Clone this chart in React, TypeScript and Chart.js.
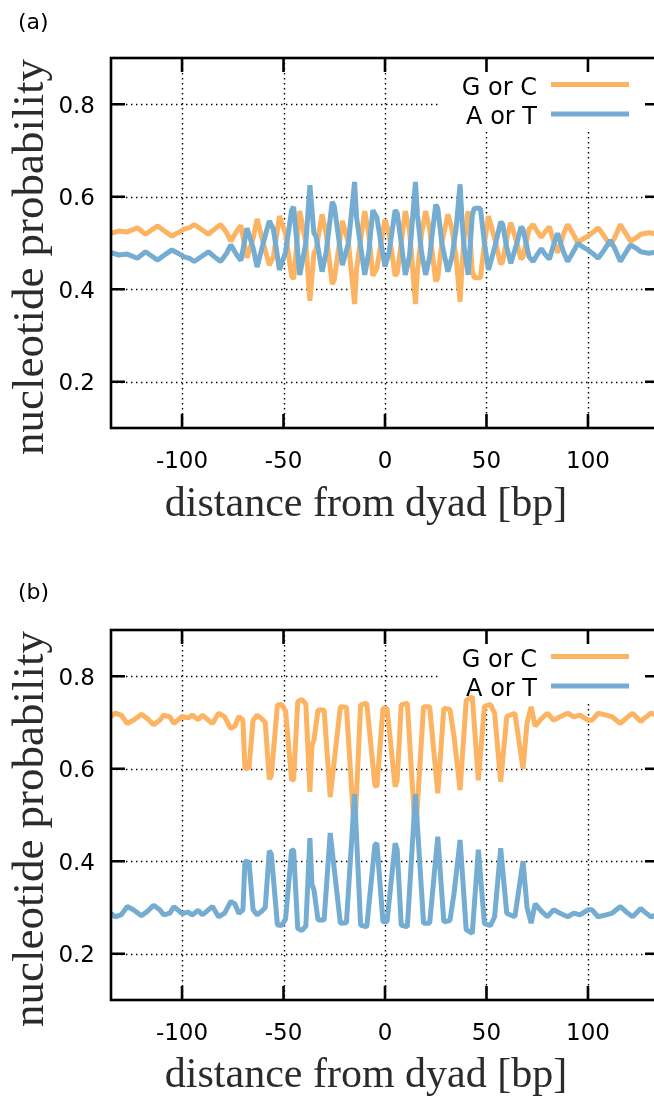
import React, { useEffect, useRef } from "react";
import { Chart, registerables } from "chart.js";

Chart.register(...registerables);

// ---------- data ----------
const X_TICKS = [-100, -50, 0, 50, 100];
const X_TICK_LABELS = ["-100", "-50", "0", "50", "100"];
const Y_TICKS = [0.2, 0.4, 0.6, 0.8];
const Y_TICK_LABELS = ["0.2", "0.4", "0.6", "0.8"];
const SERIES_NAMES = ["G or C", "A or T"];
const X_TITLE = "distance from dyad [bp]";
const Y_TITLE = "nucleotide probability";
const PANEL_LABELS = ["(a)", "(b)"];

// panel (a)
const A_POS = [
  -135, -131, -127, -122, -118, -115, -112, -108, -105, -102,
  -99, -96, -94, -90, -87, -84, -81, -78, -76, -73,
  -71, -68, -65, -63, -60, -57, -55, -52, -49, -46,
  -45, -42, -39, -37, -35, -34, -31, -29, -26, -25,
  -21, -18, -15, -14, -10, -8, -6, -4, -2, 0,
  2, 5, 6, 8, 10, 12, 13, 15, 16, 18,
  20, 22, 23, 25, 26, 28, 31, 33, 35, 37,
  38, 39, 41, 43, 44, 47, 49, 51, 54, 57,
  58, 60, 62, 65, 67, 68, 71, 73, 75, 77,
  79, 81, 83, 85, 88, 90, 92, 95, 98, 100,
  103, 105, 108, 111, 113, 116, 118, 121, 124, 126,
  130, 135,
];
const A_AT = [
  0.479, 0.474, 0.476, 0.467, 0.481, 0.472, 0.463, 0.476, 0.485, 0.478,
  0.470, 0.466, 0.460, 0.472, 0.481, 0.470, 0.460, 0.478, 0.496, 0.474,
  0.462, 0.532, 0.490, 0.448, 0.500, 0.548, 0.530, 0.442, 0.480, 0.571,
  0.578, 0.431, 0.500, 0.625, 0.521, 0.515, 0.438, 0.480, 0.589, 0.580,
  0.452, 0.500, 0.632, 0.555, 0.431, 0.480, 0.571, 0.555, 0.500, 0.449,
  0.480, 0.571, 0.565, 0.500, 0.431, 0.470, 0.520, 0.632, 0.560, 0.480,
  0.431, 0.470, 0.510, 0.583, 0.575, 0.500, 0.438, 0.470, 0.530, 0.627,
  0.545, 0.490, 0.431, 0.560, 0.575, 0.575, 0.500, 0.442, 0.490, 0.546,
  0.540, 0.490, 0.456, 0.500, 0.535, 0.530, 0.470, 0.460, 0.475, 0.488,
  0.475, 0.465, 0.495, 0.521, 0.480, 0.460, 0.475, 0.499, 0.490, 0.485,
  0.475, 0.467, 0.485, 0.506, 0.490, 0.460, 0.475, 0.496, 0.488, 0.481,
  0.478, 0.481,
];
const A_GC = [
  0.521, 0.526, 0.524, 0.533, 0.519, 0.528, 0.537, 0.524, 0.515, 0.522,
  0.530, 0.534, 0.540, 0.528, 0.519, 0.530, 0.540, 0.522, 0.504, 0.526,
  0.538, 0.468, 0.510, 0.552, 0.500, 0.452, 0.470, 0.558, 0.520, 0.429,
  0.422, 0.569, 0.500, 0.375, 0.479, 0.485, 0.562, 0.520, 0.411, 0.420,
  0.548, 0.500, 0.368, 0.445, 0.569, 0.520, 0.429, 0.445, 0.500, 0.551,
  0.520, 0.429, 0.435, 0.500, 0.569, 0.530, 0.480, 0.368, 0.440, 0.520,
  0.569, 0.530, 0.490, 0.417, 0.425, 0.500, 0.562, 0.530, 0.470, 0.373,
  0.455, 0.510, 0.569, 0.440, 0.425, 0.425, 0.500, 0.558, 0.510, 0.454,
  0.460, 0.510, 0.544, 0.500, 0.465, 0.470, 0.530, 0.540, 0.525, 0.512,
  0.525, 0.535, 0.505, 0.479, 0.520, 0.540, 0.525, 0.501, 0.510, 0.515,
  0.525, 0.533, 0.515, 0.494, 0.510, 0.540, 0.525, 0.504, 0.512, 0.519,
  0.522, 0.519,
];

// panel (b)
const B_POS = [
  -135, -133, -130, -127, -124, -120, -117, -114, -111, -109,
  -106, -104, -100, -97, -95, -92, -90, -87, -85, -82,
  -79, -76, -74, -72, -70, -69, -67, -65, -63, -61,
  -59, -57, -56, -53, -51, -49, -46, -45, -43, -41,
  -39, -37, -36, -35, -33, -30, -27, -22, -19, -15,
  -12, -9, -5, -4, -1, 1, 5, 6, 8, 11,
  15, 19, 22, 26, 29, 32, 34, 37, 40, 43,
  46, 49, 52, 54, 57, 60, 64, 68, 70, 72,
  74, 77, 80, 83, 86, 90, 93, 96, 100, 102,
  105, 109, 112, 116, 119, 122, 126, 128, 131, 135,
];
const B_GC = [
  0.713, 0.720, 0.716, 0.698, 0.705, 0.718, 0.708, 0.695, 0.705, 0.716,
  0.712, 0.698, 0.713, 0.710, 0.716, 0.706, 0.716, 0.705, 0.698, 0.720,
  0.712, 0.687, 0.692, 0.713, 0.705, 0.600, 0.602, 0.705, 0.716, 0.709,
  0.700, 0.577, 0.585, 0.738, 0.739, 0.725, 0.575, 0.577, 0.745, 0.750,
  0.740, 0.550, 0.650, 0.662, 0.727, 0.727, 0.539, 0.734, 0.733, 0.455,
  0.738, 0.742, 0.565, 0.561, 0.731, 0.731, 0.561, 0.575, 0.738, 0.742,
  0.455, 0.734, 0.734, 0.547, 0.731, 0.728, 0.670, 0.554, 0.748, 0.756,
  0.575, 0.735, 0.739, 0.720, 0.572, 0.713, 0.720, 0.600, 0.700, 0.734,
  0.692, 0.708, 0.720, 0.705, 0.712, 0.720, 0.712, 0.716, 0.705, 0.705,
  0.720, 0.716, 0.712, 0.698, 0.710, 0.720, 0.702, 0.710, 0.720, 0.715,
];
const B_AT = [
  0.287, 0.280, 0.284, 0.302, 0.295, 0.282, 0.292, 0.305, 0.295, 0.284,
  0.288, 0.302, 0.287, 0.290, 0.284, 0.294, 0.284, 0.295, 0.302, 0.280,
  0.288, 0.313, 0.308, 0.287, 0.295, 0.400, 0.398, 0.295, 0.284, 0.291,
  0.300, 0.423, 0.415, 0.262, 0.261, 0.275, 0.425, 0.423, 0.255, 0.250,
  0.260, 0.450, 0.350, 0.338, 0.273, 0.273, 0.461, 0.266, 0.267, 0.545,
  0.262, 0.258, 0.435, 0.439, 0.269, 0.269, 0.439, 0.425, 0.262, 0.258,
  0.545, 0.266, 0.266, 0.453, 0.269, 0.272, 0.330, 0.446, 0.252, 0.244,
  0.425, 0.265, 0.261, 0.280, 0.428, 0.287, 0.280, 0.400, 0.300, 0.266,
  0.308, 0.292, 0.280, 0.295, 0.288, 0.280, 0.288, 0.284, 0.295, 0.295,
  0.280, 0.284, 0.288, 0.302, 0.290, 0.280, 0.298, 0.290, 0.280, 0.285,
];

// ---------- styling ----------
const ORANGE = "#fdb462";
const BLUE = "#74add1";
const SANS = '"DejaVu Sans", "Noto Sans", sans-serif';
const SERIF = '"Liberation Serif", "DejaVu Serif", serif';
const LINE_W = 5;

type PanelCfg = {
  label: string;
  labelBaseline: number;
  xTitleBaseline: number;
  pos: number[];
  gc: number[];
  at: number[];
};

function makeDecor(cfg: PanelCfg) {
  const keyLeft = 440;
  const keyBottom = 132;
  return {
    id: "decor",
    beforeDatasetsDraw(chart: any) {
      const { ctx, chartArea: ca, scales } = chart;
      const xs = scales.x;
      const ys = scales.y;
      ctx.save();
      ctx.strokeStyle = "#000";
      ctx.lineWidth = 1.4;
      ctx.setLineDash([1.4, 3.6]);
      ctx.beginPath();
      for (const v of X_TICKS) {
        const px = Math.round(xs.getPixelForValue(v)) + 0.5;
        const top = px > keyLeft ? keyBottom : ca.top;
        ctx.moveTo(px, top);
        ctx.lineTo(px, ca.bottom);
      }
      for (const v of Y_TICKS) {
        const py = Math.round(ys.getPixelForValue(v)) + 0.5;
        const right = py < keyBottom ? keyLeft : ca.right;
        ctx.moveTo(ca.left, py);
        ctx.lineTo(right, py);
      }
      ctx.stroke();
      ctx.restore();
    },
    afterDatasetsDraw(chart: any) {
      const { ctx, chartArea: ca, scales } = chart;
      const xs = scales.x;
      const ys = scales.y;
      ctx.save();
      ctx.setLineDash([]);
      ctx.strokeStyle = "#000";
      ctx.lineWidth = 2.6;
      ctx.strokeRect(ca.left, ca.top, ca.right - ca.left, ca.bottom - ca.top);
      ctx.beginPath();
      for (const v of X_TICKS) {
        const px = xs.getPixelForValue(v);
        ctx.moveTo(px, ca.bottom);
        ctx.lineTo(px, ca.bottom - 14);
        ctx.moveTo(px, ca.top);
        ctx.lineTo(px, ca.top + 14);
      }
      for (const v of Y_TICKS) {
        const py = ys.getPixelForValue(v);
        ctx.moveTo(ca.left, py);
        ctx.lineTo(ca.left + 14, py);
        ctx.moveTo(ca.right, py);
        ctx.lineTo(ca.right - 14, py);
      }
      ctx.stroke();

      // tick labels
      ctx.fillStyle = "#000";
      ctx.font = `23px ${SANS}`;
      ctx.textBaseline = "alphabetic";
      ctx.textAlign = "center";
      X_TICKS.forEach((v, i) => {
        ctx.fillText(X_TICK_LABELS[i], xs.getPixelForValue(v), ca.bottom + 40);
      });
      ctx.textAlign = "right";
      Y_TICKS.forEach((v, i) => {
        ctx.fillText(Y_TICK_LABELS[i], ca.left - 16, ys.getPixelForValue(v) + 8.5);
      });

      // axis titles
      ctx.fillStyle = "#2b2b2b";
      ctx.textAlign = "center";
      ctx.font = `42px ${SERIF}`;
      ctx.fillText(X_TITLE, 366, cfg.xTitleBaseline);
      ctx.save();
      ctx.font = `45px ${SERIF}`;
      ctx.translate(43, 257);
      ctx.rotate(-Math.PI / 2);
      ctx.fillText(Y_TITLE, 0, 0);
      ctx.restore();

      // key
      ctx.fillStyle = "#000";
      ctx.font = `24px ${SANS}`;
      ctx.textAlign = "right";
      ctx.fillText(SERIES_NAMES[0], 537, 95);
      ctx.fillText(SERIES_NAMES[1], 537, 124);
      ctx.lineWidth = LINE_W;
      ctx.lineCap = "butt";
      ctx.strokeStyle = ORANGE;
      ctx.beginPath();
      ctx.moveTo(551, 84.5);
      ctx.lineTo(629, 84.5);
      ctx.stroke();
      ctx.strokeStyle = BLUE;
      ctx.beginPath();
      ctx.moveTo(551, 114);
      ctx.lineTo(629, 114);
      ctx.stroke();

      // panel label
      ctx.fillStyle = "#000";
      ctx.font = `22px ${SANS}`;
      ctx.textAlign = "left";
      ctx.fillText(cfg.label, 18, cfg.labelBaseline);
      ctx.restore();
    },
  };
}

function Panel({ cfg, top }: { cfg: PanelCfg; top: number }) {
  const ref = useRef<HTMLCanvasElement | null>(null);
  useEffect(() => {
    if (!ref.current) return;
    const chart = new Chart(ref.current, {
      type: "line",
      data: {
        datasets: [
          {
            label: SERIES_NAMES[1],
            data: cfg.pos.map((x, i) => ({ x, y: cfg.at[i] })),
            borderColor: BLUE,
            borderWidth: LINE_W,
            pointRadius: 0,
            borderJoinStyle: "bevel",
            tension: 0,
            order: 0,
          },
          {
            label: SERIES_NAMES[0],
            data: cfg.pos.map((x, i) => ({ x, y: cfg.gc[i] })),
            borderColor: ORANGE,
            borderWidth: LINE_W,
            pointRadius: 0,
            borderJoinStyle: "bevel",
            tension: 0,
            order: 1,
          },
        ],
      },
      options: {
        animation: false,
        responsive: false,
        devicePixelRatio: 1,
        layout: { padding: { left: 0, right: 11, top: 58, bottom: 0 } },
        plugins: { legend: { display: false }, tooltip: { enabled: false } },
        scales: {
          x: {
            type: "linear",
            min: -135,
            max: 135,
            ticks: { display: false, stepSize: 50, includeBounds: false },
            grid: { display: false },
            border: { display: false },
            afterFit: (s: any) => {
              s.height = 144;
            },
          },
          y: {
            type: "linear",
            min: 0.1,
            max: 0.9,
            ticks: { display: false, stepSize: 0.2, includeBounds: false },
            grid: { display: false },
            border: { display: false },
            afterFit: (s: any) => {
              s.width = 111;
            },
          },
        },
      } as any,
      plugins: [makeDecor(cfg)],
    });
    return () => chart.destroy();
  }, [cfg]);
  return (
    <canvas
      ref={ref}
      width={670}
      height={572}
      style={{ position: "absolute", left: 0, top, display: "block" }}
    />
  );
}

const PANEL_A: PanelCfg = {
  label: PANEL_LABELS[0],
  labelBaseline: 29,
  xTitleBaseline: 516,
  pos: A_POS,
  gc: A_GC,
  at: A_AT,
};
const PANEL_B: PanelCfg = {
  label: PANEL_LABELS[1],
  labelBaseline: 27,
  xTitleBaseline: 515,
  pos: B_POS,
  gc: B_GC,
  at: B_AT,
};

export default function App() {
  return (
    <div
      style={{
        position: "absolute",
        left: 0,
        top: 0,
        width: 654,
        height: 1096,
        overflow: "hidden",
        background: "#fff",
      }}
    >
      <Panel cfg={PANEL_A} top={0} />
      <Panel cfg={PANEL_B} top={572} />
    </div>
  );
}
